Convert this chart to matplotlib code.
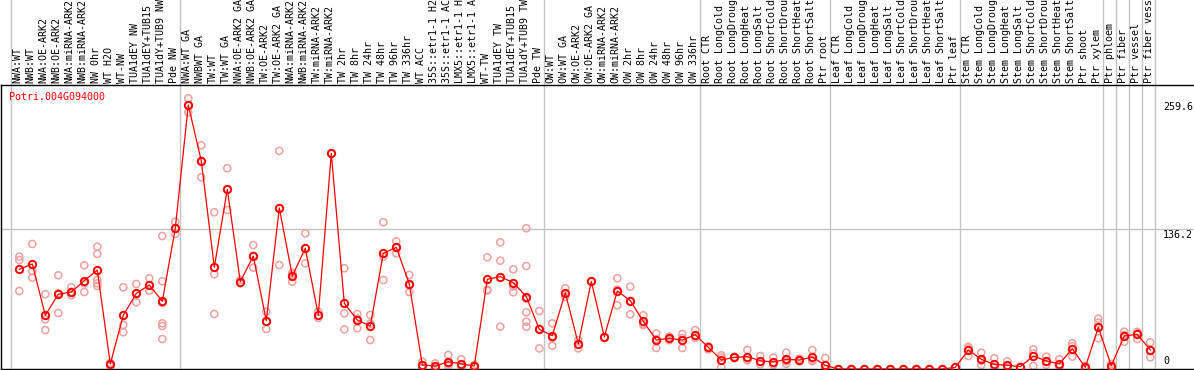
import matplotlib
matplotlib.use("Agg")
import matplotlib.pyplot as plt

gene = "Potri.004G094000"

labels = [
    "NWA:WT", "NWB:WT", "NWA:OE-ARK2", "NWB:OE-ARK2", "NWA:miRNA-ARK2", "NWB:miRNA-ARK2",
    "NW 0hr", "WT H2O", "WT-NW", "TUA1dEY NW", "TUA1dEY+TUB15 NW", "TUA1dY+TUB9 NW", "Pde NW",
    "NWA:WT GA", "NWBWT GA", "TW:WT", "TW:WT GA", "NWA:OE-ARK2 GA", "NWB:OE-ARK2 GA",
    "TW:OE-ARK2", "TW:OE-ARK2 GA", "NWA:miRNA-ARK2", "NWB:miRNA-ARK2", "TW:miRNA-ARK2",
    "TW:miRNA-ARK2", "TW 2hr", "TW 8hr", "TW 24hr", "TW 48hr", "TW 96hr", "TW 336hr",
    "WT ACC", "35S::etr1-1 H2O", "35S::etr1-1 ACC", "LMX5::etr1-1 H2O", "LMX5::etr1-1 ACC",
    "WT-TW", "TUA1dEY TW", "TUA1dEY+TUB15 TW", "TUA1dY+TUB9 TW", "Pde TW",
    "OW:WT", "OW:WT GA", "OW:OE-ARK2", "OW:OE-ARK2 GA", "OW:miRNA-ARK2", "OW:miRNA-ARK2",
    "OW 2hr", "OW 8hr", "OW 24hr", "OW 48hr", "OW 96hr", "OW 336hr",
    "Root CTR", "Root LongCold", "Root LongDrought", "Root LongHeat", "Root LongSalt",
    "Root ShortCold", "Root ShortDrought", "Root ShortHeat", "Root ShortSalt", "Ptr root",
    "Leaf CTR", "Leaf LongCold", "Leaf LongDrought", "Leaf LongHeat", "Leaf LongSalt",
    "Leaf ShortCold", "Leaf ShortDrought", "Leaf ShortHeat", "Leaf ShortSalt", "Ptr leaf",
    "Stem CTR", "Stem LongCold", "Stem LongDrought", "Stem LongHeat", "Stem LongSalt",
    "Stem ShortCold", "Stem ShortDrought", "Stem ShortHeat", "Stem ShortSalt", "Ptr shoot",
    "Ptr xylem", "Ptr phloem", "Ptr fiber", "Ptr vessel", "Ptr fiber vessel",
]

means = [
    96.7, 101.9, 52.1, 72.5, 74.7, 85.7, 96.0, 4.9, 52.1, 73.4, 81.5, 65.7, 136.5,
    256.1, 201.8, 98.7, 174.3, 84.7, 109.6, 46.9, 156.2, 90.2, 117.1, 52.4, 209.2,
    63.7, 47.5, 41.7, 112.2, 118.0, 82.5, 3.9, 2.9, 7.1, 4.9, 2.9, 87.0, 89.6, 83.7,
    70.2, 38.5,
    32.3, 74.0, 24.3, 85.0, 31.3, 75.7, 66.3, 46.2, 28.1, 29.8, 28.1, 33.3,
    21.0, 8.7, 11.3, 12.0, 8.0, 6.8, 9.4, 8.7, 11.6, 3.6,
    0, 0, 0, 0, 0, 0, 0, 0, 0, 1.6,
    18.4, 9.4, 4.5, 3.6, 2.3, 12.6, 7.8, 4.9, 19.7, 1.6,
    40.5, 3.2, 32.0, 33.7, 18.4,
]

replicates = [
    [109, 105.7, 75.7], [121.3, 95, 88.6], [72.5, 48.2, 37.8], [90.9, 73.4, 54.3],
    [79.3, 71.5, 74.7], [100.6, 83.1, 74.7], [118.6, 111.6, 86.3, 83.1, 80.5], [3, 6],
    [79.3, 42.7, 35.6], [82.5, 64.7, 73], [88, 76, 81], [129, 85.1, 64, 44.3, 41.7, 29.1],
    [142.9, 131, 136],
    [262.6, 249, 256], [217, 186, 202], [152, 91.9, 53.4], [194.7, 154.2, 174],
    [86.3, 83.1], [120.3, 98.3, 110], [55.6, 38.8, 46], [211.5, 100.9, 156],
    [93.4, 84.7, 92], [131.6, 102.5, 117], [55.5, 49.5], [209],
    [97.7, 54, 38.5], [53.4, 39.5, 49], [52.4, 28.1, 44], [142.3, 109, 86.3],
    [123.9, 112.2, 118], [91.2, 74.7, 81.5], [7.1, 1, 3.5], [5.5, 1, 2.5],
    [13.6, 3, 5], [9.4, 2, 3], [4, 2], [108.4, 76, 77], [122.9, 105.1, 41],
    [96.7, 74.4, 80], [136.5, 99.9, 68, 55, 45.9, 41], [56.3, 20, 39],
    [44.3, 22.6, 30], [78.3, 70], [28, 20], [85], [31], [88, 61.8, 77],
    [79.8, 53, 66], [52.1, 42.7, 44], [34.6, 20.4, 29], [31.5, 28], [34, 20.4, 30],
    [37.8, 30, 32],
    [19, 22], [13.3, 1.6, 11], [12, 10.5], [18.4, 8.5, 9], [12.6, 4.5, 7],
    [11, 4, 5.5], [15.8, 5, 7.5], [10, 7.5], [18.4, 7.5, 9], [10.7, 0, 0],
    [0], [0], [0], [0], [0], [0], [0], [0], [0], [1.6],
    [21.6, 12.6, 20], [15.8, 4, 8], [10.4, 1.5, 2], [7.5, 1.5, 2], [2.3],
    [19.1, 3, 15], [12, 4, 7], [9.4, 2, 3], [24.9, 12, 22], [3, 0.5],
    [48.8, 29.8, 45], [1, 5], [36.2, 26.5, 33], [36, 29.1, 35], [25.9, 11.3, 18],
]

group_ends = [0, 13, 41, 53, 63, 73, 84, 85, 86, 87, 88]
axis_labels = [259.6, 136.2, 0]

W, H = 1194, 370
fig = plt.figure(figsize=(W / 100, H / 100), dpi=100)
# axes spans pixels x 1..1194, y 85..369 (from top)
ax = fig.add_axes([1 / W, 1 / H, (W - 1) / W, 284 / H])

px_per_col = 13.0
x0_pix = 19.3  # pixel centre of column 1
xl = 1 + (1 - x0_pix) / px_per_col
xr = 1 + (W - x0_pix) / px_per_col
ax.set_xlim(xl, xr)
ymax = 275.5
ax.set_ylim(0, ymax)
ypx = 284 / ymax

for s in ["left", "top", "bottom"]:
    ax.spines[s].set_color("black")
    ax.spines[s].set_linewidth(1.0)
ax.spines["right"].set_visible(False)
ax.set_xticks([])
ax.set_yticks([])

grey = "#c4c4c4"
ax.axhline(136.2, color=grey, lw=1.0, zorder=1)
for k in group_ends:
    ax.axvline(k + 5 / px_per_col, ymin=0, ymax=369 / 284, color=grey, lw=1.0,
               clip_on=False, zorder=1)

mono = "DejaVu Sans Mono"
xs = list(range(1, len(means) + 1))

rx, ry = [], []
for i, reps in zip(xs, replicates):
    for v in reps:
        rx.append(i)
        ry.append(v)
ax.scatter(rx, ry, s=26, facecolors="none", edgecolors="#f0a0a0", linewidths=1.1, zorder=2)
ax.plot(xs, means, color="#ff0000", lw=0.9, marker="o", ms=5.3, mfc="none",
        mec="#ff0000", mew=1.4, zorder=3)

for i, lab in zip(xs, labels):
    ax.text(i - 1.5 / px_per_col, ymax + 2 / ypx, lab, rotation=90, ha="center",
            va="bottom", fontsize=7.2, family=mono, color="black", clip_on=False)

ax.text(1 + (9 - x0_pix) / px_per_col, ymax - 11.7 / ypx, gene, ha="left", va="center",
        fontsize=7.2, family=mono, color="#ff0000")

xlab = 1 + (1163 - x0_pix) / px_per_col
for v in axis_labels:
    if v == 0:
        ax.text(xlab, 3 / ypx, "0", ha="left", va="bottom", fontsize=7.2, family=mono)
    else:
        ax.text(xlab, v - 1 / ypx, f"{v}", ha="left", va="top", fontsize=7.2, family=mono)

fig.savefig("out.png", dpi=100)
